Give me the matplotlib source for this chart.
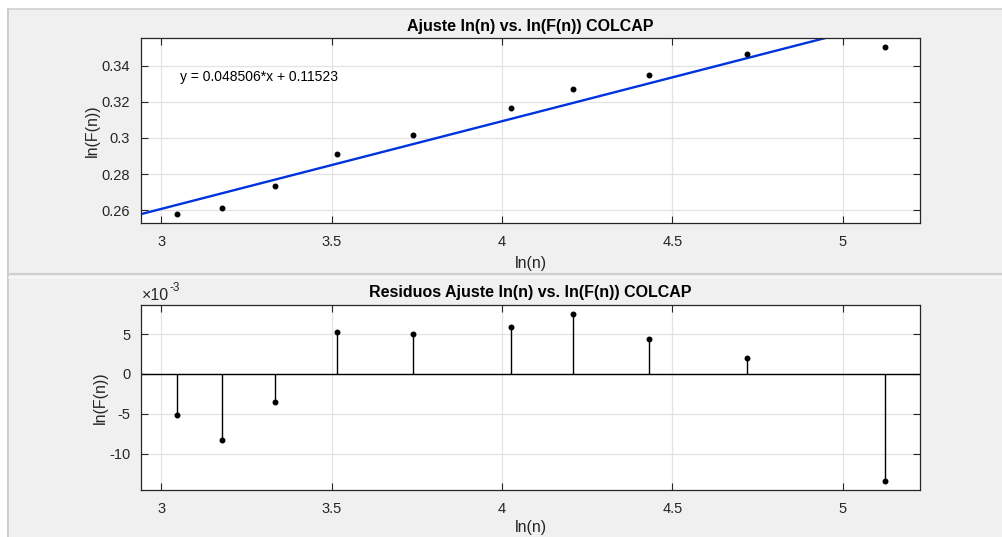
import numpy as np
import matplotlib
matplotlib.use('Agg')
import matplotlib.pyplot as plt
from matplotlib.patches import Rectangle
from matplotlib.lines import Line2D

plt.rcParams['font.family'] = ['Liberation Sans', 'DejaVu Sans']
plt.rcParams['axes.unicode_minus'] = False

# datos
ln_n = [3.045, 3.179, 3.333, 3.515, 3.738, 4.026, 4.208, 4.431, 4.719, 5.123]
ln_F = [0.2578, 0.2611, 0.2735, 0.2912, 0.3017, 0.3166, 0.3269, 0.3347, 0.3463, 0.3505]
residuos = [-5.1, -8.3, -3.55, 5.25, 5.06, 5.94, 7.52, 4.39, 1.96, -13.45]  # x 1e-3
pendiente = 0.048506
intercepto = 0.11523

W, H = 1003, 537
fig = plt.figure(figsize=(W / 100, H / 100), dpi=100, facecolor='#f0f0f0')

# bordes de los paneles (estilo uipanel)
fig.patches.append(Rectangle((0, 1 - 8 / H), 1, 8 / H, transform=fig.transFigure, color='white', zorder=0))
fig.patches.append(Rectangle((0, 0), 8 / W, 1, transform=fig.transFigure, color='white', zorder=0))
fig.lines.append(Line2D([8.5 / W, 8.5 / W], [0, 1 - 8.5 / H], transform=fig.transFigure, color='#c4c4c4', lw=1.2))
fig.lines.append(Line2D([8.5 / W, 1], [1 - 8.5 / H, 1 - 8.5 / H], transform=fig.transFigure, color='#d0d0d0', lw=1.2))
fig.lines.append(Line2D([8.5 / W, 1], [1 - 274 / H, 1 - 274 / H], transform=fig.transFigure, color='#cfcfcf', lw=1.5))
fig.lines.append(Line2D([8.5 / W, 1], [1 - 276.5 / H, 1 - 276.5 / H], transform=fig.transFigure, color='#fafafa', lw=1))


def px_axes(left, top, right, bottom):
    return fig.add_axes([left / W, 1 - bottom / H, (right - left) / W, (bottom - top) / H])


def estilo(ax):
    ax.set_facecolor('white')
    ax.grid(True, color='#e3e3e3', lw=0.9)
    ax.set_axisbelow(True)
    for s in ax.spines.values():
        s.set_color('#262626')
        s.set_linewidth(0.9)
    ax.tick_params(direction='in', length=5, width=0.8, color='#262626', top=True, right=True,
                   labelsize=10.5, labelcolor='#262626')
    ax.tick_params(axis='x', pad=9)
    ax.tick_params(axis='y', pad=8)


ax1 = px_axes(141.3, 38, 919.6, 222.7)
estilo(ax1)
xs = np.linspace(2.9, 5.3, 50)
ax1.plot(xs, pendiente * xs + intercepto, color='#0033dd', lw=1.7)
ax1.plot(ln_n, ln_F, 'k.', ms=6.5)
ax1.set_xlim(2.941, 5.226)
ax1.set_ylim(0.2531, 0.3553)
ax1.set_xticks([3, 3.5, 4, 4.5, 5])
ax1.set_xticklabels(['3', '3.5', '4', '4.5', '5'])
ax1.set_yticks([0.26, 0.28, 0.30, 0.32, 0.34])
ax1.set_yticklabels(['0.26', '0.28', '0.3', '0.32', '0.34'])
ax1.text(3.055, 0.3337, 'y = 0.048506*x + 0.11523', fontsize=10, va='center', color='black')
ax1.set_title('Ajuste ln(n) vs. ln(F(n)) COLCAP', fontsize=11.5, fontweight='bold', pad=5)
ax1.set_xlabel('ln(n)', fontsize=11.5, color='#262626', labelpad=5)
ax1.set_ylabel('ln(F(n))', fontsize=11.5, color='#262626', labelpad=1)

ax2 = px_axes(141.3, 305.3, 919.6, 489.7)
estilo(ax2)
ax2.axhline(0, color='black', lw=1.0, zorder=2)
ml, sl, bl = ax2.stem(ln_n, residuos, linefmt='k-', markerfmt='k.', basefmt=' ')
sl.set_linewidth(1.0)
ml.set_markersize(6.5)
ax2.set_xlim(2.941, 5.226)
ax2.set_ylim(-14.5, 8.6)
ax2.set_xticks([3, 3.5, 4, 4.5, 5])
ax2.set_xticklabels(['3', '3.5', '4', '4.5', '5'])
ax2.set_yticks([-10, -5, 0, 5])
ax2.set_yticklabels(['-10', '-5', '0', '5'])
ax2.text(0.001, 1.01, '\u00d710', transform=ax2.transAxes, fontsize=11.5, color='#262626',
         va='bottom', ha='left')
ax2.text(0.036, 1.06, '-3', transform=ax2.transAxes, fontsize=8.5, color='#262626',
         va='bottom', ha='left')
ax2.set_title('Residuos Ajuste ln(n) vs. ln(F(n)) COLCAP', fontsize=11.5, fontweight='bold', pad=6)
ax2.set_xlabel('ln(n)', fontsize=11.5, color='#262626', labelpad=3)
ax2.set_ylabel('ln(F(n))', fontsize=11.5, color='#262626', labelpad=1)

fig.savefig('out.png', dpi=100, facecolor=fig.get_facecolor())
